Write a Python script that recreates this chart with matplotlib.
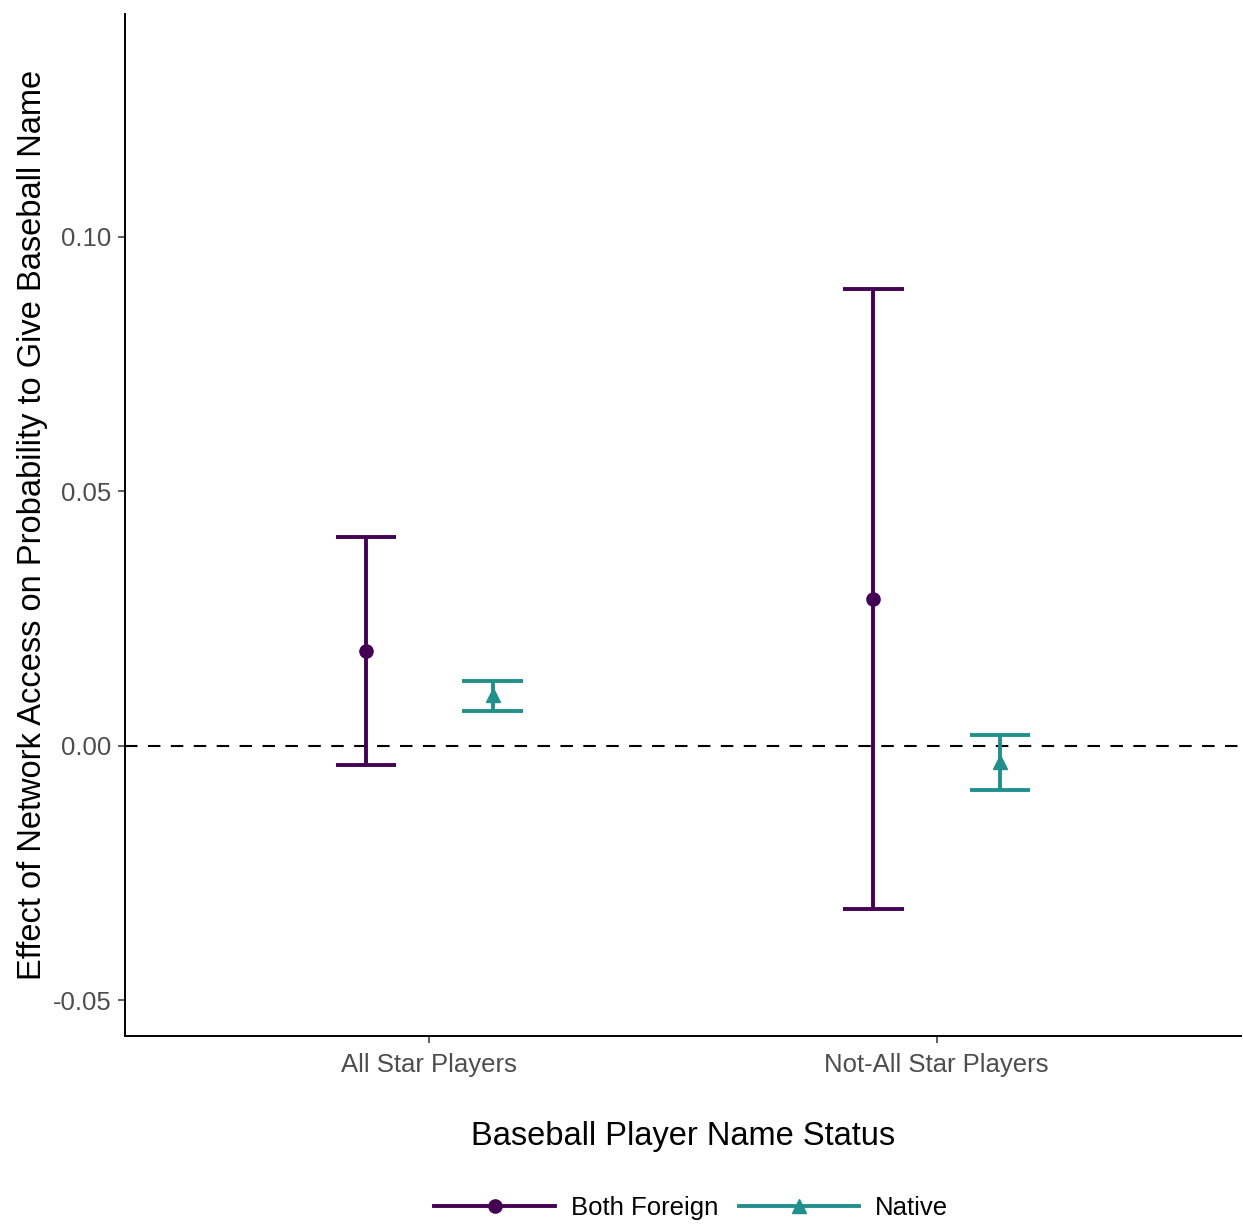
import matplotlib
matplotlib.use('Agg')
import matplotlib.pyplot as plt
from matplotlib.lines import Line2D

plt.rcParams['font.family'] = ['Liberation Sans', 'DejaVu Sans']

# ---------- data ----------
categories = ['All Star Players', 'Not-All Star Players']
groups = ['Both Foreign', 'Native']
est = {'Both Foreign': [0.0187, 0.0289], 'Native': [0.0100, -0.0031]}
lower = {'Both Foreign': [-0.0037, -0.0320], 'Native': [0.0069, -0.0086]}
upper = {'Both Foreign': [0.0411, 0.0898], 'Native': [0.0128, 0.0022]}

colors = {'Both Foreign': '#440154', 'Native': '#21908C'}
markers = {'Both Foreign': 'o', 'Native': '^'}
offsets = {'Both Foreign': -0.125, 'Native': 0.125}
cap = 0.06

fig = plt.figure(figsize=(12.43, 12.26), dpi=100)
ax = fig.add_axes([0.1006, 0.155, 0.8978, 0.8336])

for g in groups:
    xs = [i + 1 + offsets[g] for i in range(len(categories))]
    ax.vlines(xs, lower[g], upper[g], color=colors[g], lw=2.8, zorder=3)
    ax.hlines(lower[g], [x - cap for x in xs], [x + cap for x in xs], color=colors[g], lw=2.8, zorder=3)
    ax.hlines(upper[g], [x - cap for x in xs], [x + cap for x in xs], color=colors[g], lw=2.8, zorder=3)
    ax.plot(xs, est[g], linestyle='none', marker=markers[g], color=colors[g], markersize=9.5, zorder=4)

ax.axhline(0, color='black', linestyle=(0, (6, 5)), lw=1.5, zorder=2)

ax.set_xlim(0.4, 2.6)
ax.set_ylim(-0.057, 0.1438)
ax.set_xticks([1, 2])
ax.set_xticklabels(categories)
ax.set_yticks([-0.05, 0.0, 0.05, 0.10])
ax.set_yticklabels(['-0.05', '0.00', '0.05', '0.10'])
ax.tick_params(axis='both', labelsize=18.5, labelcolor='#4D4D4D', color='#333333',
               length=5, width=1.1, pad=5)
ax.tick_params(axis='x', pad=7)
for s in ['top', 'right']:
    ax.spines[s].set_visible(False)
for s in ['left', 'bottom']:
    ax.spines[s].set_linewidth(1.4)

ax.set_xlabel('Baseball Player Name Status', fontsize=23.5, labelpad=32)
ax.set_ylabel('Effect of Network Access on Probability to Give Baseball Name', fontsize=23.5, labelpad=3)

handles = [Line2D([0], [0], color=colors[g], lw=2.8, marker=markers[g], markersize=9.5) for g in groups]
fig.legend(handles, groups, loc='center', bbox_to_anchor=(0.556, 0.0145), ncol=2, frameon=False,
           fontsize=18.5, handlelength=4.7, columnspacing=0.8, handletextpad=0.6)

plt.savefig('out.png', dpi=100)
